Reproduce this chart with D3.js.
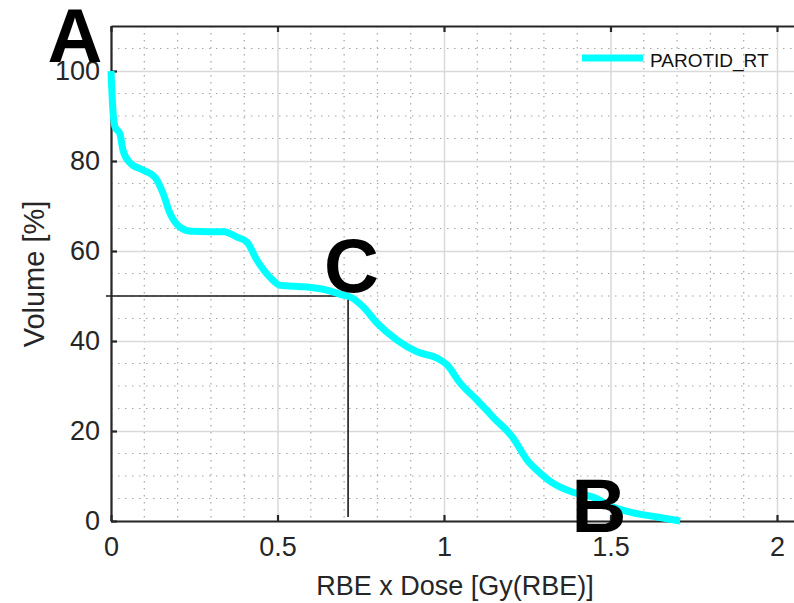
<!DOCTYPE html>
<html lang="en">
  <head>
    <meta charset="UTF-8" />
    <title>DVH Parotid</title>
    <script src="https://cdn.jsdelivr.net/npm/d3@7"></script>
    <style>
      body {
        margin: 0;
        background-color: #ffffff;
        font-family: "Liberation Sans", Arial, Helvetica, sans-serif;
      }
      #dvh_graph {
        width: 794px;
        height: 603px;
        overflow: hidden;
      }
    </style>
  </head>
  <body>
    <div id="dvh_graph"></div>

    <script>
      // Dose-volume curve
      const dose = [
        0, 0.006, 0.012, 0.027, 0.036, 0.057, 0.096, 0.132, 0.156, 0.177,
        0.207, 0.24, 0.3, 0.34, 0.378, 0.408, 0.438, 0.477, 0.507, 0.588,
        0.648, 0.697, 0.718, 0.757, 0.799, 0.859, 0.919, 0.979, 1.009, 1.048,
        1.099, 1.147, 1.207, 1.249, 1.288, 1.327, 1.387, 1.447, 1.508, 1.568,
        1.64, 1.709,
      ];
      const volume = [
        100, 91, 87.6, 86, 82.4, 79.6, 78, 76.4, 72.9, 68.4,
        65.3, 64.4, 64.3, 64.3, 63.1, 62, 58, 54.2, 52.4, 52,
        51.3, 50.2, 49.8, 47.6, 44, 40.2, 37.6, 36.2, 34.7, 30.7,
        26.9, 23.1, 18.5, 13.6, 10.7, 8.4, 6.4, 5.3, 3.1, 1.8,
        0.9, 0,
      ];
      const xTicks = [0, 0.5, 1, 1.5, 2];
      const yTicks = [0, 20, 40, 60, 80, 100];
      const seriesName = "PAROTID_RT";

      // D50 guide (dose, volume) and the panel letters
      const guideDose = [-0.015, 0.712];
      const guideVolume = [50, 0.9];
      const letters = ["A", "B", "C"];
      const letterDose = [-0.108, 1.465, 0.722];
      const letterVolume = [102, -2.4, 51];

      const data = dose.map((d, i) => ({ dose: d, volume: volume[i] }));

      const svg = d3
        .select("#dvh_graph")
        .append("svg")
        .attr("width", 794)
        .attr("height", 603);

      const plotLeft = 111,
        plotTop = 26,
        plotBottom = 521,
        plotRight = 794;

      const x = d3
        .scaleLinear()
        .domain([0, 2.1])
        .range([plotLeft, plotLeft + 333 * 2.1]);
      const y = d3.scaleLinear().domain([0, 110]).range([plotBottom, plotTop]);

      // minor grid (dotted), every 0.1 Gy and every 5 %
      const minorX = d3
        .range(1, 21)
        .filter((i) => i % 5 !== 0)
        .map((i) => i / 10);
      const minorY = d3.range(5, 110, 5).filter((v) => v % 20 !== 0);

      svg
        .append("g")
        .selectAll("line")
        .data(minorX)
        .join("line")
        .attr("x1", (d) => x(d))
        .attr("x2", (d) => x(d))
        .attr("y1", plotTop)
        .attr("y2", plotBottom)
        .attr("stroke", "#a6a6a6")
        .attr("stroke-width", 1.2)
        .attr("stroke-dasharray", "1.5,5.5");

      svg
        .append("g")
        .selectAll("line")
        .data(minorY)
        .join("line")
        .attr("x1", plotLeft)
        .attr("x2", plotRight)
        .attr("y1", (d) => y(d))
        .attr("y2", (d) => y(d))
        .attr("stroke", "#a6a6a6")
        .attr("stroke-width", 1.2)
        .attr("stroke-dasharray", "1.5,5.5");

      // major grid
      svg
        .append("g")
        .attr("transform", `translate(0, ${plotBottom})`)
        .call(
          d3
            .axisBottom(x)
            .tickValues(xTicks)
            .tickSize(-(plotBottom - plotTop))
            .tickFormat("")
        )
        .call((g) => g.select(".domain").remove())
        .selectAll("line")
        .attr("stroke", "#d9d9d9")
        .attr("stroke-width", 1.5);

      svg
        .append("g")
        .attr("transform", `translate(${plotLeft}, 0)`)
        .call(
          d3
            .axisLeft(y)
            .tickValues(yTicks)
            .tickSize(-(plotRight - plotLeft))
            .tickFormat("")
        )
        .call((g) => g.select(".domain").remove())
        .selectAll("line")
        .attr("stroke", "#d9d9d9")
        .attr("stroke-width", 1.5);

      // D50 guide lines
      svg
        .append("path")
        .attr(
          "d",
          `M${x(guideDose[0])},${y(guideVolume[0])}H${x(guideDose[1])}V${y(guideVolume[1])}`
        )
        .attr("fill", "none")
        .attr("stroke", "#1a1a1a")
        .attr("stroke-width", 1.6);

      // axes box
      const axisColor = "#262626";
      const tickFont = (g) =>
        g
          .selectAll(".tick text")
          .attr("fill", axisColor)
          .style("font-size", "27px")
          .style("font-family", '"Liberation Sans", Arial, sans-serif');

      const xAxis = svg
        .append("g")
        .attr("transform", `translate(0, ${plotBottom})`)
        .call(
          d3
            .axisBottom(x)
            .tickValues(xTicks)
            .tickSizeInner(-6)
            .tickSizeOuter(0)
            .tickPadding(16)
            .tickFormat(d3.format("~g"))
        );
      xAxis.select(".domain").attr("stroke", axisColor).attr("stroke-width", 2.2);
      xAxis.selectAll(".tick line").attr("stroke", axisColor).attr("stroke-width", 2.2);
      tickFont(xAxis);

      const topAxis = svg
        .append("g")
        .attr("transform", `translate(0, ${plotTop})`)
        .call(
          d3
            .axisTop(x)
            .tickValues(xTicks)
            .tickSizeInner(-6)
            .tickSizeOuter(0)
            .tickFormat("")
        );
      topAxis.select(".domain").attr("stroke", axisColor).attr("stroke-width", 2.2);
      topAxis.selectAll(".tick line").attr("stroke", axisColor).attr("stroke-width", 2.2);

      const yAxis = svg
        .append("g")
        .attr("transform", `translate(${plotLeft}, 0)`)
        .call(
          d3
            .axisLeft(y)
            .tickValues(yTicks)
            .tickSizeInner(-6)
            .tickSizeOuter(0)
            .tickPadding(11)
        );
      yAxis.select(".domain").attr("stroke", axisColor).attr("stroke-width", 2.2);
      yAxis.selectAll(".tick line").attr("stroke", axisColor).attr("stroke-width", 2.2);
      tickFont(yAxis);

      // the curve
      svg
        .append("path")
        .datum(data)
        .attr("fill", "none")
        .attr("stroke", "#00ffff")
        .attr("stroke-width", 7)
        .attr("stroke-linejoin", "round")
        .attr(
          "d",
          d3
            .line()
            .x((d) => x(d.dose))
            .y((d) => y(d.volume))
            .curve(d3.curveMonotoneX)
        );

      // legend (no box)
      svg
        .append("line")
        .attr("x1", 582)
        .attr("x2", 643)
        .attr("y1", 58)
        .attr("y2", 58)
        .attr("stroke", "#00ffff")
        .attr("stroke-width", 7);
      svg
        .append("text")
        .attr("x", 650)
        .attr("y", 67)
        .attr("fill", "#111")
        .style("font-size", "19px")
        .text(seriesName);

      // axis labels
      svg
        .append("text")
        .attr("x", 455)
        .attr("y", 595)
        .attr("text-anchor", "middle")
        .attr("fill", axisColor)
        .style("font-size", "27px")
        .text("RBE x Dose [Gy(RBE)]");

      svg
        .append("text")
        .attr("transform", "translate(44, 274) rotate(-90)")
        .attr("text-anchor", "middle")
        .attr("fill", axisColor)
        .style("font-size", "29px")
        .text("Volume [%]");

      // panel letters
      svg
        .append("g")
        .selectAll("text")
        .data(letters)
        .join("text")
        .attr("x", (d, i) => x(letterDose[i]))
        .attr("y", (d, i) => y(letterVolume[i]))
        .attr("text-anchor", "middle")
        .attr("fill", "#000")
        .style("font-size", "76px")
        .style("font-weight", "700")
        .style("font-family", '"Liberation Sans", Arial, sans-serif')
        .text((d) => d);
    </script>
  </body>
</html>
